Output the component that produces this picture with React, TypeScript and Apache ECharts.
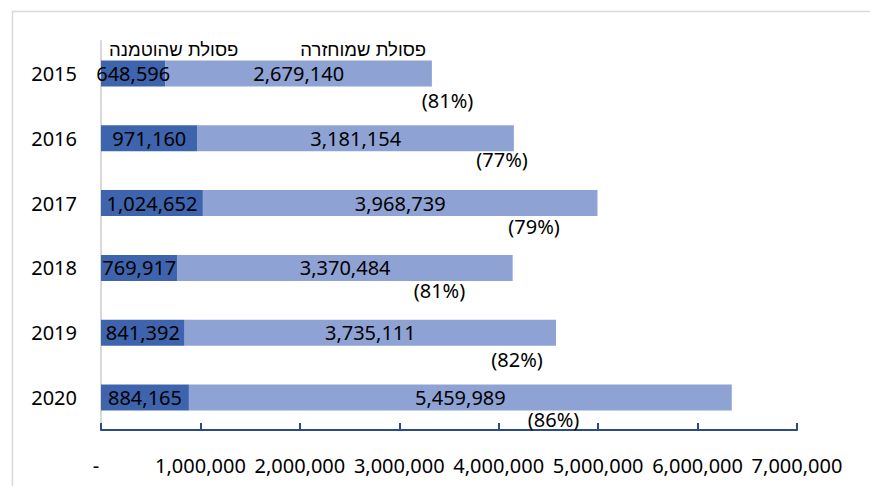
import React, { useEffect, useRef } from "react";
import * as echarts from "echarts";

const years = ["2015", "2016", "2017", "2018", "2019", "2020"];
const buried = [648596, 971160, 1024652, 769917, 841392, 884165];
const recycled = [2679140, 3181154, 3968739, 3370484, 3735111, 5459989];
const seriesNames = ["פסולת שהוטמנה", "פסולת שמוחזרה"];
const xTicks = [0, 1000000, 2000000, 3000000, 4000000, 5000000, 6000000, 7000000];
// where each share-of-recycled annotation sits (value-axis units) and its drop below the bar
const pctLabelAt = [3485000, 4033000, 4355000, 3404000, 4184000, 4551000];
const pctLabelDrop = [27, 21, 23, 23, 27, 22];

const FONT = "Noto Sans";
const fmt = (v: number) => v.toLocaleString("en-US");

export default function App() {
  const ref = useRef<HTMLDivElement>(null);
  useEffect(() => {
    if (!ref.current) return;
    const chart = echarts.init(ref.current, null, { renderer: "svg" });
    const pct = recycled.map((r, i) => Math.round((r / (r + buried[i])) * 100));
    chart.setOption({
      animation: false,
      backgroundColor: "#fff",
      textStyle: { fontFamily: FONT },
      graphic: [
        {
          type: "rect",
          shape: { x: 12.5, y: 11.5, width: 900, height: 500 },
          style: { fill: "none", stroke: "#d9d9d9", lineWidth: 1.5 },
          silent: true,
          z: -10,
        },
      ],
      legend: {
        data: seriesNames,
        left: 99,
        top: 35,
        itemWidth: 0,
        itemHeight: 0,
        itemGap: 57,
        textStyle: { fontFamily: "Liberation Sans", fontSize: 18.5, color: "#000" },
      },
      grid: { left: 101, top: 41, width: 696, height: 389, containLabel: false },
      xAxis: {
        type: "value",
        min: xTicks[0],
        max: xTicks[xTicks.length - 1],
        interval: xTicks[1] - xTicks[0],
        splitLine: { show: false },
        axisLine: { show: true, lineStyle: { color: "#2e4a85", width: 2 } },
        axisTick: { show: true, inside: true, length: 7, lineStyle: { color: "#2e4a85", width: 2 } },
        axisLabel: {
          margin: 25,
          fontSize: 20,
          color: "#000",
          fontFamily: FONT,
          formatter: (v: number) => (v === 0 ? "{d|-}" : fmt(v)),
          rich: { d: { fontSize: 20, color: "#000", padding: [0, 10, 0, 0], fontFamily: FONT } },
        },
      },
      yAxis: {
        type: "category",
        inverse: true,
        data: years,
        axisLine: { show: true, lineStyle: { color: "#d9d9d9", width: 2 } },
        axisTick: { show: false },
        axisLabel: { margin: 24, fontSize: 20, color: "#000", fontFamily: FONT },
      },
      series: [
        {
          name: seriesNames[0],
          type: "bar",
          stack: "total",
          barWidth: 26,
          data: buried,
          itemStyle: { color: "#3e64ad" },
          label: { show: true, position: "inside", fontSize: 20, color: "#000", fontFamily: FONT, formatter: (p: any) => fmt(p.value) },
        },
        {
          name: seriesNames[1],
          type: "bar",
          stack: "total",
          barWidth: 26,
          data: recycled,
          itemStyle: { color: "#8ea3d4" },
          label: { show: true, position: "inside", fontSize: 20, color: "#000", fontFamily: FONT, formatter: (p: any) => fmt(p.value) },
        },
        {
          name: "pct",
          type: "scatter",
          symbolSize: 0,
          z: 5,
          itemStyle: { opacity: 1 },
          data: pctLabelAt.map((x, i) => ({
            value: [x, i],
            label: { offset: [0, pctLabelDrop[i]] },
          })),
          label: {
            show: true,
            position: "inside",
            fontSize: 20,
            color: "#000",
            opacity: 1,
            fontFamily: FONT,
            formatter: (p: any) => `(${pct[p.dataIndex]}%)`,
          },
        },
      ],
    });
    return () => chart.dispose();
  }, []);
  return (
    <div
      ref={ref}
      style={{ position: "fixed", left: 0, top: 0, width: 870, height: 486 }}
    />
  );
}
